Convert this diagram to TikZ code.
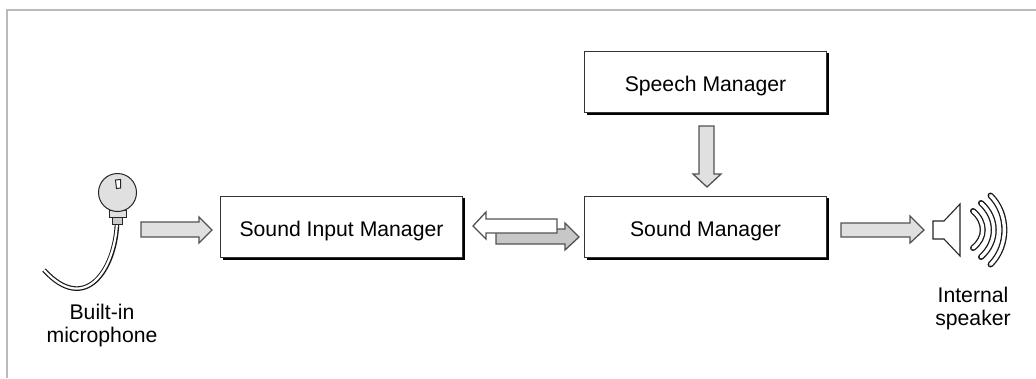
\documentclass[tikz,border=0pt]{standalone}
\usepackage{fontspec}
\setmainfont{Liberation Sans}
\tikzset{
  mgr/.style={draw=black!80,line width=1.1pt,fill=white,minimum width=242pt,minimum height=61.5pt,inner sep=0pt,text height=18pt,text depth=0pt,font=\fontsize{21.2}{25}\selectfont},
  shadowline/.style={draw=black,line width=2.8pt},
  flow/.style={draw=black!68,line width=1.3pt,fill=black!12,line join=miter},
  capt/.style={align=center,inner sep=0pt,font=\fontsize{21.2}{23.5}\selectfont},
  waveout/.style={draw=black!90,line width=6pt,line cap=round},
  wavein/.style={draw=white,line width=3.4pt,line cap=round},
  frameline/.style={draw=black!27,line width=2pt}
}
\begin{document}
\begin{tikzpicture}[x=1pt,y=-1pt]
\useasboundingbox (0,0) rectangle (1036,378);
\fill[white] (0,0) rectangle (1036,378);
\coordinate (fa) at (7,378);
\coordinate (fb) at (7,10);
\coordinate (fc) at (1036,10);
\draw[frameline] (fa) -- (fb) -- (fc);
% shadows and boxes
\foreach \n/\cx/\cy in {si/341.5/227,sm/705.5/227,sp/705.5/82}{
  \draw[shadowline] (\cx+122.5,\cy-29) -- (\cx+122.5,\cy+32) -- (\cx-119,\cy+32);
}
\node[mgr] (input) at (341.5,227) {Sound Input Manager};
\node[mgr] (sound) at (705.5,227) {Sound Manager};
\node[mgr] (speech) at (705.5,82) {Speech Manager};
% flows
\draw[flow] (141,222) -- (199,222) -- (199,217) -- (212,230) -- (199,243) -- (199,237) -- (141,237) -- cycle;
\draw[flow] (841,223) -- (910,223) -- (910,216) -- (924,230) -- (910,243) -- (910,237) -- (841,237) -- cycle;
\draw[flow] (699,126) -- (714,126) -- (714,174) -- (721,174) -- (707,187) -- (693,174) -- (699,174) -- cycle;
\draw[flow,fill=black!22] (496,229) -- (565,229) -- (565,223) -- (579,237) -- (565,250) -- (565,244) -- (496,244) -- cycle;
\draw[flow,fill=white] (473,226) -- (486,212) -- (486,219) -- (557,219) -- (557,233) -- (486,233) -- (486,239) -- cycle;
% microphone
\draw[black!90,line width=4.6pt] (117,224) .. controls (115,270) and (85,315) .. (44,270);
\draw[white,line width=2.2pt] (117,222) .. controls (115,270) and (85,315) .. (44,270);
\draw[black!85,line width=1pt,fill=black!20] (112,217) rectangle (122,224);
\draw[black!85,line width=1pt,fill=black!12] (109,210) rectangle (126,217);
\draw[black!85,line width=1pt,fill=black!12] (117.5,192.5) circle (19);
\draw[black!85,line width=1pt,fill=white] (115.5,180) -- (120.5,179.5) -- (120.5,188) -- (116.5,188.5) -- cycle;
% speaker
\draw[black!85,line width=1.1pt,fill=white] (933,221) -- (944,221) -- (960,204) -- (960,256) -- (944,239) -- (933,239) -- cycle;
\foreach \s in {waveout,wavein}{
  \draw[\s] (973,211) .. controls (986,222) and (986,238) .. (973,248);
  \draw[\s] (981,203) .. controls (998,218) and (998,242) .. (981,257);
  \draw[\s] (990.5,195.5) .. controls (1009,214) and (1009,246) .. (990.5,264.5);
}
% captions
\node[capt] (mic) at (102,325.5) {Built-in\\microphone};
\node[capt] (spk) at (973,308.5) {Internal\\speaker};
\end{tikzpicture}
\end{document}
